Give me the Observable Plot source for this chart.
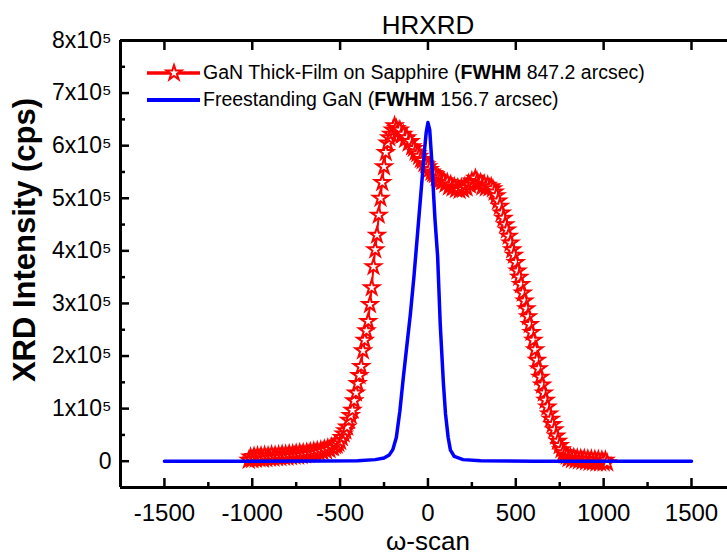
<!DOCTYPE html>
<html><head><meta charset="utf-8">
<script src="https://cdn.jsdelivr.net/npm/d3@7"></script>
<script src="https://cdn.jsdelivr.net/npm/@observablehq/plot@0.6"></script>
<style>
body{margin:0;background:#fff;}
#wrap{position:relative;width:727px;height:555px;font-family:"Liberation Sans",Arial,sans-serif;overflow:hidden;}
#legend{position:absolute;left:145px;top:59px;}
.row{display:flex;align-items:center;height:27px;font-size:19.5px;color:#000;white-space:nowrap;}
.row svg{display:block;}
.row span{margin-left:1px;}
</style></head><body><div id="wrap"><div id="legend"></div></div>
<script>
// ---- data ----
const titleText = "HRXRD";
const xLabel = "\u03c9-scan";
const yLabel = "XRD Intensity (cps)";
const seriesNames = ["GaN Thick-Film on Sapphire", "Freestanding GaN"];
const seriesFwhm = ["847.2", "156.7"];
const xTicks = [-1500, -1000, -500, 0, 500, 1000, 1500];
const xMinorTicks = [-1250, -750, -250, 250, 750, 1250];
const yTicks = [0, 1, 2, 3, 4, 5, 6, 7, 8];          // x10^5 cps
const yMinorTicks = [0.5, 1.5, 2.5, 3.5, 4.5, 5.5, 6.5, 7.5];
const xDomain = [-1750, 1705];
const yDomain = [-0.5, 8];

// thick film: omega (arcsec), step 10, and intensity (x10^5 cps)
const filmOmega = d3.range(-1020, 1021, 10);
const filmIntensity = [
  0.02,0.08,0.03,0.09,0.04,0.10,0.05,0.10,0.04,0.11,
  0.05,0.10,0.06,0.12,0.06,0.11,0.07,0.12,0.07,0.13,
  0.08,0.13,0.08,0.14,0.09,0.14,0.10,0.15,0.10,0.16,
  0.11,0.16,0.12,0.17,0.13,0.18,0.14,0.19,0.15,0.20,
  0.16,0.21,0.18,0.23,0.20,0.25,0.22,0.27,0.26,0.30,
  0.31,0.34,0.38,0.45,0.52,0.58,0.65,0.78,0.87,0.97,
  1.15,1.30,1.48,1.63,1.80,2.10,2.30,2.48,2.66,2.98,
  3.30,3.70,4.02,4.30,4.68,5.00,5.30,5.60,5.87,6.05,
  6.15,6.22,6.30,6.38,6.33,6.28,6.30,6.20,6.22,6.12,
  6.15,6.05,6.08,5.98,5.95,5.88,5.85,5.80,5.74,5.72,
  5.66,5.64,5.60,5.55,5.50,5.47,5.45,5.40,5.38,5.35,
  5.32,5.33,5.27,5.30,5.22,5.26,5.20,5.22,5.17,5.20,
  5.15,5.20,5.17,5.22,5.20,5.28,5.25,5.33,5.30,5.38,
  5.32,5.28,5.30,5.22,5.27,5.20,5.25,5.20,5.22,5.18,
  5.12,5.05,4.95,4.85,4.72,4.62,4.50,4.40,4.28,4.15,
  4.02,3.92,3.78,3.62,3.50,3.36,3.20,3.05,2.90,2.75,
  2.60,2.45,2.30,2.12,1.92,1.76,1.60,1.45,1.30,1.16,
  1.03,0.90,0.80,0.70,0.60,0.48,0.38,0.30,0.22,0.16,
  0.12,0.10,0.05,0.08,0.03,0.07,0.02,0.06,0.01,0.05,
  0.00,0.05,-0.01,0.04,-0.02,0.04,-0.02,0.03,-0.03,0.03,
  -0.03,0.02,-0.03,0.02,-0.03
];

// freestanding: omega (arcsec) and intensity (x10^5 cps)
const freeOmega = [-1500,-1000,-600,-400,-300,-250,-220,-200,-180,-160,-140,-120,-100,-80,-60,-40,-20,-10,0,10,20,40,55,70,88,100,115,128,150,200,300,600,1000,1500];
const freeIntensity = [0,0,0.005,0.01,0.03,0.06,0.12,0.22,0.45,0.95,1.6,2.2,2.8,3.5,4.3,5.1,5.9,6.25,6.44,6.3,5.8,4.6,3.9,2.6,1.48,0.9,0.45,0.21,0.09,0.03,0.01,0,0,0];

const film = filmOmega.map((x, i) => ({x, y: filmIntensity[i]}));
const free = freeOmega.map((x, i) => ({x, y: freeIntensity[i]}));

// ---- layout ----
const W = 727, H = 555, mL = 120, mR = 0, mT = 40, mB = 68;
const pw = W - mL - mR, ph = H - mT - mB;
const red = "#ff0000", blue = "#0000ff";
const starR = 4.7;
const font = "Liberation Sans, Arial, sans-serif";

const chart = Plot.plot({
  width: W, height: H,
  marginLeft: mL, marginRight: mR, marginTop: mT, marginBottom: mB,
  style: {fontFamily: font, background: "white", color: "black", overflow: "visible"},
  x: {domain: xDomain},
  y: {domain: yDomain},
  marks: [
    Plot.line(film, {x: "x", y: "y", stroke: red, strokeWidth: 2}),
    Plot.dot(film, {x: "x", y: "y", symbol: "star", r: starR, stroke: red, fill: "white", strokeWidth: 2}),
    Plot.line(free, {x: "x", y: "y", stroke: blue, strokeWidth: 3.5}),
    // frame
    Plot.ruleX([xDomain[0]], {stroke: "black", strokeWidth: 3}),
    Plot.ruleY([yDomain[0]], {stroke: "black", strokeWidth: 3}),
    Plot.ruleY([yDomain[1]], {stroke: "black", strokeWidth: 3}),
    // inward ticks
    Plot.tickX(xTicks, {x: d => d, insetTop: ph - 9, stroke: "black", strokeWidth: 2.5}),
    Plot.tickX(xMinorTicks, {x: d => d, insetTop: ph - 5, stroke: "black", strokeWidth: 2.5}),
    Plot.tickX(xTicks, {x: d => d, insetBottom: ph - 10, stroke: "black", strokeWidth: 2.5}),
    Plot.tickY(yTicks, {y: d => d, insetRight: pw - 9, stroke: "black", strokeWidth: 2.5}),
    Plot.tickY(yMinorTicks, {y: d => d, insetRight: pw - 5, stroke: "black", strokeWidth: 2.5}),
    // axes labels
    Plot.axisX(xTicks, {tickSize: 0, tickPadding: 16, fontSize: 24, tickFormat: d => `${d}`, label: null}),
    Plot.axisY(yTicks, {tickSize: 0, tickPadding: 9, fontSize: 23, tickFormat: d => d === 0 ? "0" : `${d}x10\u2075`, label: null}),
    // titles
    Plot.text([titleText], {frameAnchor: "top", dx: 4, dy: -15, lineAnchor: "middle", fontSize: 26, fill: "black"}),
    Plot.text([xLabel], {frameAnchor: "bottom", dx: 4, dy: 54, lineAnchor: "middle", fontSize: 26, fill: "black"}),
    Plot.text([yLabel], {frameAnchor: "left", dx: -95, dy: -24, rotate: -90, textAnchor: "middle", lineAnchor: "middle", fontSize: 31, fontWeight: "bold", fill: "black"})
  ]
});
const wrap = document.getElementById("wrap");
wrap.insertBefore(chart, wrap.firstChild);

// legend
const starPath = d3.symbol(d3.symbolStar, Math.PI * starR * starR)();
const legend = document.getElementById("legend");
legend.innerHTML = seriesNames.map((name, i) => {
  const sym = i === 0
    ? `<line x1="2" x2="55" y1="13" y2="13" stroke="${red}" stroke-width="3.5"/><path d="${starPath}" transform="translate(29,13)" fill="white" stroke="${red}" stroke-width="2"/>`
    : `<line x1="2" x2="55" y1="13" y2="13" stroke="${blue}" stroke-width="4"/>`;
  return `<div class="row"><svg width="57" height="26">${sym}</svg><span>${name} (<b>FWHM</b> ${seriesFwhm[i]} arcsec)</span></div>`;
}).join("");
</script>
</body></html>
